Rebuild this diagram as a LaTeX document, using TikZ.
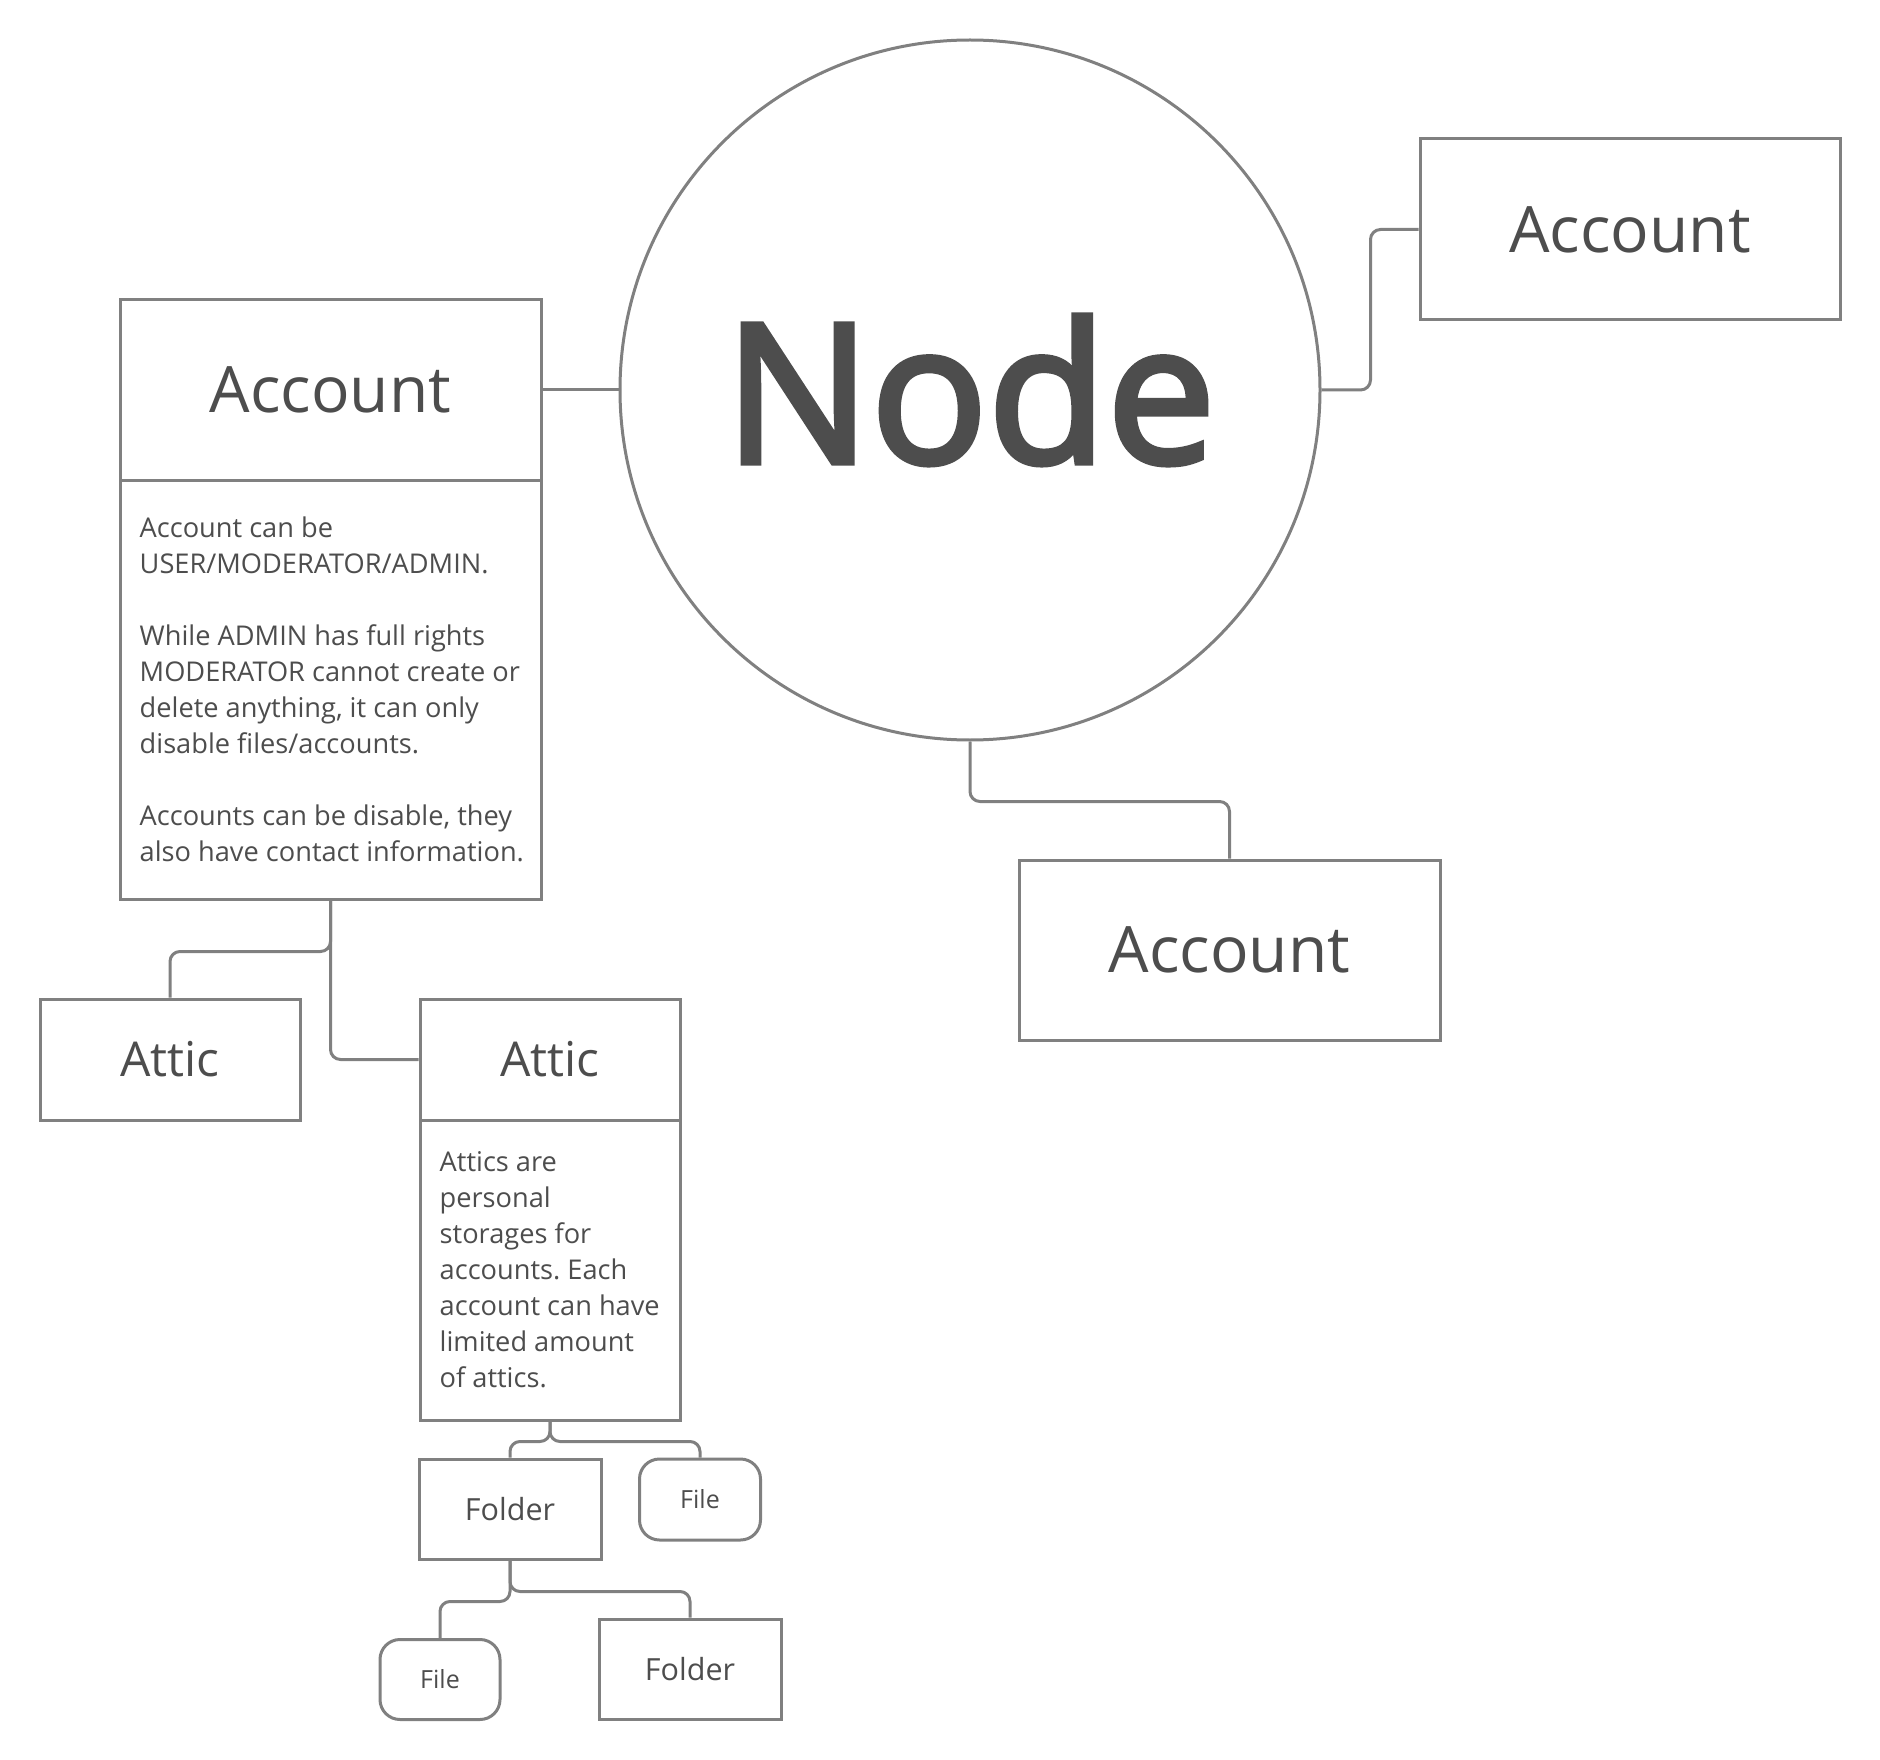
\documentclass[tikz,border=0pt]{standalone}
\usepackage{fontspec}
\setmainfont{Open Sans}
\newfontfamily\nodefont[FakeBold=3]{Open Sans}
\frenchspacing
\definecolor{linec}{HTML}{808080}
\definecolor{textc}{HTML}{4D4D4D}
\tikzset{
  box/.style={draw=linec, line width=3pt, fill=white, inner sep=0pt, text=textc, rectangle},
  filebox/.style={box, rounded corners=20pt},
  conn/.style={draw=linec, line width=3pt, rounded corners=10pt},
  bigtxt/.style={font=\fontsize{64}{76}\selectfont},
  attxt/.style={font=\fontsize{48}{60}\selectfont},
  bodytxt/.style={font=\fontsize{27.2}{36}\selectfont\frenchspacing, align=left, text=textc, inner sep=0pt, anchor=west},
}
\begin{document}
\begin{tikzpicture}[x=1pt, y=-1pt]
\useasboundingbox (0,0) rectangle (1880,1760);
\fill[white] (0,0) rectangle (1880,1760);

% central circle
\node[circle, draw=linec, line width=3pt, minimum size=700pt, inner sep=0pt, text=textc,
      font=\nodefont\fontsize{194}{234}\selectfont] (node) at (970,390) {Node};

% right account
\node[box, minimum width=420pt, minimum height=181pt, bigtxt] (accR) at (1630,229.5) {Account};
% bottom account
\node[box, minimum width=421pt, minimum height=180pt, bigtxt] (accBot) at (1229.5,950) {Account};
% left account with description
\node[box, minimum width=421pt, minimum height=180pt, bigtxt] (accH) at (330.5,390) {Account};
\node[box, minimum width=421pt, minimum height=419pt] (accB) at (330.5,689.5) {};
\node[bodytxt] (accT) at ([xshift=21pt]accB.west)
  {Account can be\\USER/MODERATOR/ADMIN.\\[36pt]While ADMIN has full rights\\MODERATOR cannot create or\\delete anything, it can only\\disable files/accounts.\\[36pt]Accounts can be disable, they\\also have contact information.};

% attics
\node[box, minimum width=260pt, minimum height=121pt, attxt] (attic1) at (170,1059.5) {Attic};
\node[box, minimum width=260pt, minimum height=121pt, attxt] (atH) at (550,1059.5) {Attic};
\node[box, minimum width=260pt, minimum height=300pt] (atB) at (550,1270) {};
\node[bodytxt] (atT) at ([xshift=21pt]atB.west)
  {Attics are\\personal\\storages for\\accounts. Each\\account can have\\limited amount\\of attics.};

% folders and files
\node[box, minimum width=182pt, minimum height=100pt, font=\fontsize{30.5}{36}\selectfont] (fold1) at (510,1509) {Folder};
\node[filebox, minimum width=121pt, minimum height=81pt, font=\fontsize{25}{30}\selectfont] (file1) at (700,1499.5) {File};
\node[filebox, minimum width=120pt, minimum height=80pt, font=\fontsize{25}{30}\selectfont] (file2) at (440,1679.5) {File};
\node[box, minimum width=182pt, minimum height=100pt, font=\fontsize{30.5}{36}\selectfont] (fold2) at (690,1669) {Folder};

% connectors
\draw[conn] (accH.east) -- (node.west);
\draw[conn] (node.east) -- ++(49,0) |- (accR.west);
\draw[conn] (node.south) -- ++(0,60) -| (accBot.north);
\draw[conn] (accB.south) -- ++(0,51) -| (attic1.north);
\draw[conn] (accB.south) |- (atH.west);
\draw[conn] (atB.south) -- ++(0,20) -| (fold1.north);
\draw[conn] (atB.south) -- ++(0,20) -| (file1.north);
\draw[conn] (fold1.south) -- ++(0,41) -| (file2.north);
\draw[conn] (fold1.south) -- ++(0,31) -| (fold2.north);
\end{tikzpicture}
\end{document}
